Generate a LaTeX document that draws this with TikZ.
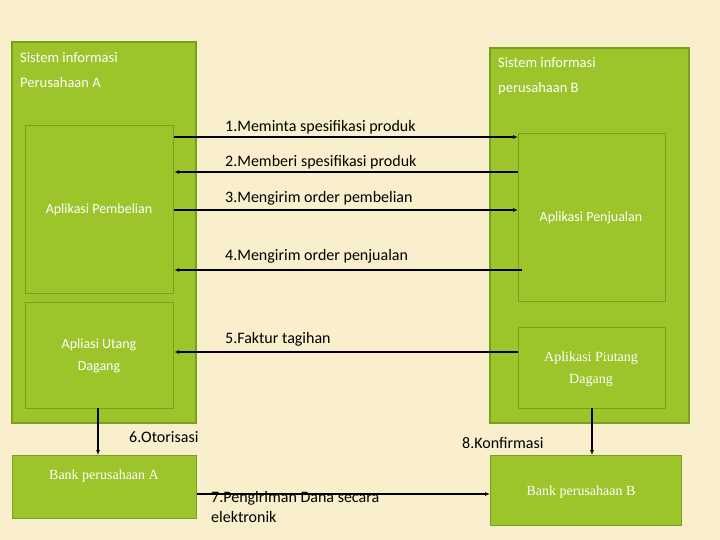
\documentclass[tikz,border=0pt]{standalone}
\usepackage{fontspec}
\setmainfont{Carlito}
\newfontfamily\serifx{Liberation Serif}
\usetikzlibrary{arrows.meta}
\definecolor{bg}{HTML}{FAEFCC}
\definecolor{gr}{HTML}{9BC52B}
\definecolor{grd}{HTML}{7A9E1E}
\begin{document}
\begin{tikzpicture}[x=1pt,y=-1pt,
  box/.style={draw=grd,line width=1.2pt,fill=gr},
  wt/.style={text=white,font=\fontsize{14}{22}\selectfont,align=center},
  lbl/.style={font=\fontsize{16}{20}\selectfont,anchor=base west,inner sep=0},
  arr/.style={line width=1.6pt,-{Latex[length=5pt,width=4pt]}}]
\fill[bg] (0,0) rectangle (720,540);
\useasboundingbox (0,0) rectangle (720,540);
\draw[box] (12,42) rectangle (196,423);
\draw[box] (490,48) rectangle (689,423);
\node[box,minimum width=148,minimum height=168,anchor=north west] (pb) at (25,125) {};
\node[wt] at (99,210) {Aplikasi Pembelian};
\node[box,minimum width=147,minimum height=168,anchor=north west] (pj) at (518,133) {};
\node[wt] at (591,218) {Aplikasi Penjualan};
\node[box,minimum width=148,minimum height=106,anchor=north west] (ut) at (25,302) {};
\node[wt] at (99,356) {Apliasi Utang\\Dagang};
\node[box,minimum width=147,minimum height=81,anchor=north west] (pt) at (518,327) {};
\node[wt,font=\serifx\fontsize{14}{22}\selectfont] at (591,369) {Aplikasi Piutang\\Dagang};
\node[box,minimum width=184,minimum height=63,anchor=north west] (ba) at (12,455) {};
\node[wt,font=\serifx\fontsize{14}{18}\selectfont] at (104,476) {Bank perusahaan A};
\node[box,minimum width=191,minimum height=70,anchor=north west] (bb) at (490,455) {};
\node[wt,font=\serifx\fontsize{14}{18}\selectfont] at (581,492) {Bank perusahaan B};
\node[text=white,font=\fontsize{14.5}{25}\selectfont,align=left,anchor=north west,inner sep=0] (ta) at (20,52) {Sistem informasi\\Perusahaan A};
\node[text=white,font=\fontsize{14.5}{25}\selectfont,align=left,anchor=north west,inner sep=0] (tb) at (498,57) {Sistem informasi\\perusahaan B};
\draw[arr] (pb.east|-0,137) -- (pj.west|-0,137);
\node[lbl] (l1) at (225,132) {1.Meminta spesifikasi produk};
\draw[arr] (pj.west|-0,172) -- (pb.east|-0,172);
\node[lbl] (l2) at (225,167) {2.Memberi spesifikasi produk};
\draw[arr] (pb.east|-0,210) -- (pj.west|-0,210);
\node[lbl] (l3) at (225,203) {3.Mengirim order pembelian};
\draw[arr] (522,270) -- (pb.east|-0,270);
\node[lbl] (l4) at (225,260) {4.Mengirim order penjualan};
\draw[arr] (pt.west|-0,352) -- (ut.east|-0,352);
\node[lbl] (l5) at (225,343) {5.Faktur tagihan};
\draw[arr] (98,408) -- (98,455);
\node[lbl] (l6) at (129,442) {6.Otorisasi};
\draw[arr] (ba.east|-0,494) -- (bb.west|-0,494);
\node[lbl,align=left,anchor=north west] (l7) at (211,491) {7.Pengiriman Dana secara\\elektronik};
\draw[arr] (592,408) -- (592,455);
\node[lbl] (l8) at (462,448) {8.Konfirmasi};
\end{tikzpicture}
\end{document}
